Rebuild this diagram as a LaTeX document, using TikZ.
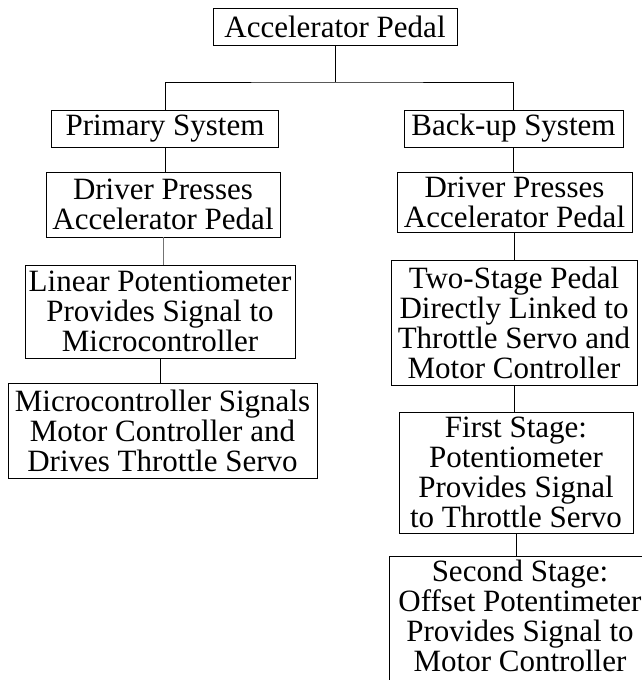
\documentclass[tikz,border=0pt]{standalone}
\usepackage{fontspec}
\setmainfont{Liberation Serif}
\begin{document}
\begin{tikzpicture}[x=1pt,y=-1pt,
  box/.style={draw, line width=0.8pt, inner sep=1pt, align=center,
    font=\fontsize{31}{30}\selectfont},
  link/.style={line width=0.8pt}]
\useasboundingbox (0,0) rectangle (642,680);
\begin{scope}
\clip (0,0) rectangle (642,680);
% root
\node[box, minimum width=244, minimum height=37] (top) at (335,26.5) {Accelerator Pedal};
% primary branch
\node[box, minimum width=227, minimum height=37] (prim) at (165,128.5) {Primary System};
\node[box, minimum width=234, minimum height=65] (drvL) at (163,204.5) {Driver Presses\\Accelerator Pedal};
\node[box, minimum width=270, minimum height=93] (lin) at (160,311.5) {Linear Potentiometer\\Provides Signal to\\Microcontroller};
\node[box, minimum width=309, minimum height=95] (micro) at (162.5,430.5) {Microcontroller Signals\\Motor Controller and\\Drives Throttle Servo};
% back-up branch
\node[box, minimum width=219, minimum height=37] (back) at (513.5,128.5) {Back-up System};
\node[box, minimum width=235, minimum height=60] (drvR) at (514.5,202) {Driver Presses\\Accelerator Pedal};
\node[box, minimum width=246, minimum height=125] (two) at (514,322.5) {Two-Stage Pedal\\Directly Linked to\\Throttle Servo and\\Motor Controller};
\node[box, minimum width=234, minimum height=121] (first) at (516,472.5) {First Stage:\\Potentiometer\\Provides Signal\\to Throttle Servo};
% the last box runs on past the lower edge; a strut keeps its frame open below
\node[box, anchor=north, inner ysep=4pt, minimum width=262] (second) at (520,556)
  {Second Stage:\\Offset Potentimeter\\Provides Signal to\\Motor Controller\rule[-24pt]{0pt}{24pt}};
% split below the root
\coordinate (split) at (top.south |- 0,82);
\draw[link] (top.south) -- (split);
\draw[link] (prim.north) |- (split) -| (back.north);
% chains
\draw[link] (prim.south) -- (prim.south |- drvL.north);
\draw[link, black!55] (drvL.south) -- (drvL.south |- lin.north);
\draw[link] (lin.south) -- (lin.south |- micro.north);
\draw[link] (back.south) -- (back.south |- drvR.north);
\draw[link] (drvR.south) -- (drvR.south |- two.north);
\draw[link] (two.south) -- (two.south |- first.north);
\draw[link] (first.south) -- (first.south |- second.north);
\end{scope}
\end{tikzpicture}
\end{document}
